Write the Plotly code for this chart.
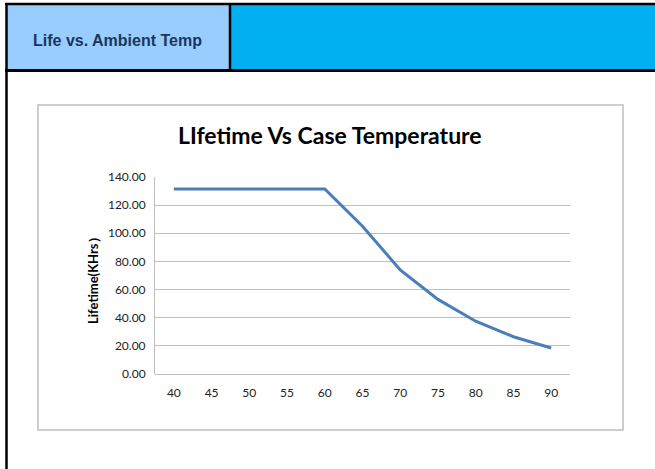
import plotly.graph_objects as go

# ---- data ----
temps = ["40", "45", "50", "55", "60", "65", "70", "75", "80", "85", "90"]
lifetime = [131.5, 131.5, 131.5, 131.5, 131.5, 105.0, 74.0, 53.0, 37.5, 26.5, 18.5]
y_ticks = [0, 20, 40, 60, 80, 100, 120, 140]

chart_title = "LIfetime Vs Case Temperature"
y_title = "Lifetime(KHrs）"
header_text = "Life vs. Ambient Temp"

W, H = 655, 469
PL, PR, PT, PB = 155, 570, 177, 374  # plot area pixel bounds


def px(x):
    return (x - PL) / (PR - PL)


def py(y):
    return (PB - y) / (PB - PT)


fig = go.Figure()
fig.add_trace(go.Scatter(
    x=temps, y=lifetime, mode="lines",
    line=dict(color="#4A7EBB", width=3),
    hoverinfo="x+y", showlegend=False,
))

shapes = [
    # header cells
    dict(type="rect", xref="paper", yref="paper", x0=px(6), x1=px(230), y0=py(71), y1=py(4),
         fillcolor="#99CCFF", line=dict(width=0), layer="below"),
    dict(type="rect", xref="paper", yref="paper", x0=px(230), x1=px(656), y0=py(71), y1=py(4),
         fillcolor="#00B0F0", line=dict(width=0), layer="below"),
    # header borders
    dict(type="line", xref="paper", yref="paper", x0=px(5), x1=px(656), y0=py(4), y1=py(4),
         line=dict(color="black", width=2.5)),
    dict(type="line", xref="paper", yref="paper", x0=px(5), x1=px(656), y0=py(70.5), y1=py(70.5),
         line=dict(color="black", width=3)),
    dict(type="line", xref="paper", yref="paper", x0=px(230), x1=px(230), y0=py(4), y1=py(71),
         line=dict(color="black", width=2.5)),
    dict(type="line", xref="paper", yref="paper", x0=px(6.5), x1=px(6.5), y0=py(3), y1=py(470),
         line=dict(color="black", width=2.5)),
    # chart box
    dict(type="rect", xref="paper", yref="paper", x0=px(38), x1=px(623), y0=py(430), y1=py(105),
         fillcolor="rgba(0,0,0,0)", line=dict(color="#BFBFBF", width=1.5)),
]

annotations = [
    dict(text=header_text, xref="paper", yref="paper", x=px(117.5), y=py(40),
         xanchor="center", yanchor="middle", showarrow=False,
         font=dict(family="Liberation Sans, Arial", size=16, color="#17375E", weight="bold")),
    dict(text=chart_title, xref="paper", yref="paper", x=px(330), y=py(135),
         xanchor="center", yanchor="middle", showarrow=False,
         font=dict(family="Lato", size=23, color="black", weight="bold")),
    dict(text=y_title, xref="paper", yref="paper", x=px(93), y=py(277),
         xanchor="center", yanchor="middle", showarrow=False, textangle=-90,
         font=dict(family="Lato", size=13, color="black", weight="bold")),
]

fig.update_layout(
    width=W, height=H,
    margin=dict(l=PL, r=W - PR, t=PT, b=H - PB, pad=0),
    paper_bgcolor="white", plot_bgcolor="white",
    shapes=shapes, annotations=annotations,
    showlegend=False,
)
fig.update_xaxes(
    type="category", range=[-0.5, 10.5], showgrid=False,
    showline=False, zeroline=False, ticks="", ticklabelstandoff=10,
    tickfont=dict(family="Lato", size=12, color="#222"),
)
fig.update_yaxes(
    range=[0, 140], tickvals=y_ticks, tickformat=".2f",
    showgrid=True, gridcolor="#BFBFBF", gridwidth=1,
    showline=True, linecolor="#BFBFBF", linewidth=1,
    zeroline=True, zerolinecolor="#BFBFBF", zerolinewidth=1,
    ticks="", ticklabelstandoff=6,
    tickfont=dict(family="Lato", size=12, color="#222"),
)

fig.write_html("out.html", config={"displayModeBar": False},
               post_script="document.body.style.margin='0';")
